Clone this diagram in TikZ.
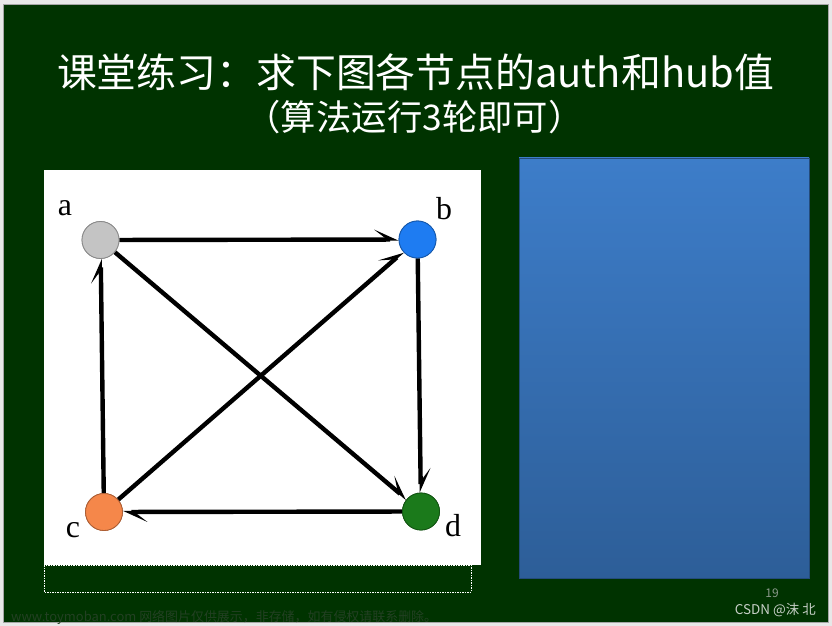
\documentclass[tikz,border=0pt]{standalone}
\usepackage{fontspec}
\newfontfamily\cjk{Noto Sans CJK SC}
\newfontfamily\lserif{Liberation Serif}
\usetikzlibrary{arrows.meta}
\definecolor{outerbg}{HTML}{E8E8E8}
\definecolor{slidegreen}{HTML}{003300}
\definecolor{bluetop}{HTML}{3D7DC9}
\definecolor{bluebot}{HTML}{2D5E98}
\definecolor{nodea}{HTML}{C4C4C4}
\definecolor{nodeb}{HTML}{1E7CF2}
\definecolor{nodec}{HTML}{F5874A}
\definecolor{noded}{HTML}{1B7A1B}
\definecolor{wmark}{HTML}{234023}
\definecolor{pagenum}{HTML}{8A998A}
\definecolor{credit}{HTML}{C8D0C8}
\tikzset{
  vertex/.style={circle, minimum size=37bp, inner sep=0pt, draw=#1!70!black, line width=0.8bp, fill=#1},
  vlabel/.style={font=\lserif\fontsize{32}{32}\selectfont, text=black, inner sep=0pt},
  edge/.style={line width=4.4bp, -{Stealth[left,length=22bp,width=20bp,inset=13bp]}},
  titletext/.style={font=\cjk\fontsize{40}{42}\selectfont, text=white, inner sep=0pt},
  subtext/.style={font=\cjk\fontsize{35.5}{37}\selectfont, text=white, inner sep=0pt}
}
\begin{document}
\begin{tikzpicture}[x=1bp,y=-1bp]
\useasboundingbox (0,0) rectangle (832,626);
\fill[outerbg] (0,0) rectangle (832,626);
\fill[slidegreen, draw=gray!70, line width=0.6bp] (3,4) rectangle (828,622);
% title
\node[titletext] (title) at (415.5,72) {课堂练习：求下图各节点的auth和hub值};
\node[subtext] (sub) at (414.5,117) {（算法运行3轮即可）};
% white panel and dashed box
\fill[white] (44,170) rectangle (481,565);
\draw[white, line width=0.8bp, dash pattern=on 1.5bp off 1bp] (44,565) rectangle (471,592);
% blue panel
\shade[top color=bluetop, bottom color=bluebot] (519,158) rectangle (809,578);
\draw[bluebot!80!black, line width=0.6bp] (519,158) rectangle (809,578);
% graph
\node[vertex=nodea] (a) at (100.5,240) {};
\node[vertex=nodeb] (b) at (417.5,239.5) {};
\node[vertex=nodec] (c) at (104,512) {};
\node[vertex=noded] (d) at (421,511.5) {};
\draw[edge] (a) -- (b);
\draw[edge] (c) -- (a);
\draw[edge] (b) -- (d);
\draw[edge] (a) -- (d);
\draw[edge] (c) -- (b);
\draw[edge] (d) -- (c);
\node[vertex=nodea] at (a) {};
\node[vertex=nodeb] at (b) {};
\node[vertex=nodec] at (c) {};
\node[vertex=noded] at (d) {};
\node[vlabel] (la) at (65,208) {a};
\node[vlabel] (lb) at (444,209) {b};
\node[vlabel] (lc) at (73,530) {c};
\node[vlabel] (ld) at (453,526) {d};
% footer
\node[font=\cjk\fontsize{12}{12}\selectfont, text=pagenum, inner sep=0pt] (num) at (772,593) {19};
\node[font=\cjk\fontsize{13.5}{14}\selectfont, text=credit, inner sep=0pt, anchor=east] (csdn) at (816,610) {CSDN @沫 北};
\node[font=\cjk\fontsize{13}{13}\selectfont, text=wmark, inner sep=0pt, anchor=west] (wm) at (11,617) {www.toymoban.com 网络图片仅供展示，非存储，如有侵权请联系删除。};
\end{tikzpicture}
\end{document}
